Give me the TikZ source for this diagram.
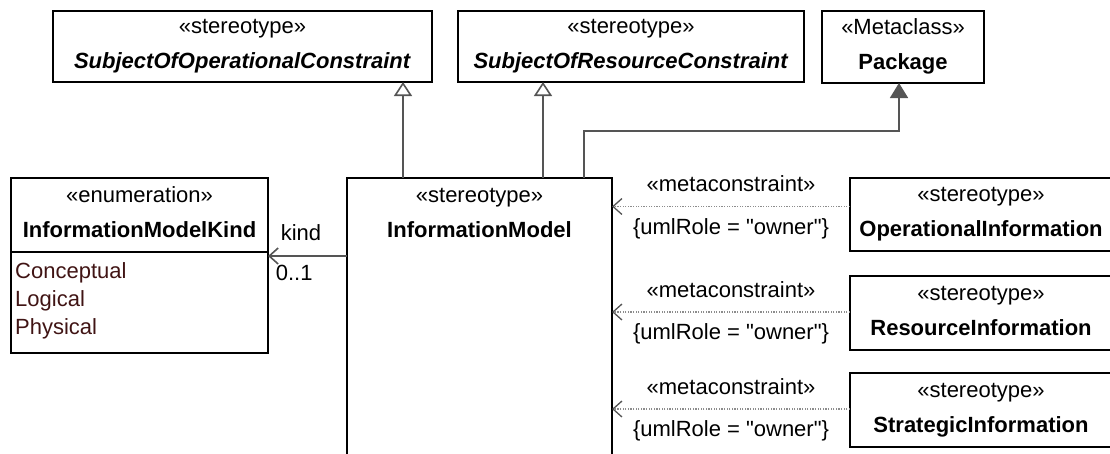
\documentclass[tikz,border=0pt]{standalone}
\usepackage{fontspec}
\setmainfont{Liberation Sans}[Ligatures=TeXOff]
\usetikzlibrary{arrows.meta,positioning}
\definecolor{linegray}{RGB}{85,85,85}
\definecolor{dotgray}{RGB}{140,140,140}
\definecolor{litbrown}{RGB}{64,20,20}
\newcommand{\umlfont}{\fontsize{22}{35}\selectfont}
\newcommand{\litfont}{\fontsize{22}{28}\selectfont}

\begin{document}
\begin{tikzpicture}[x=1pt,y=-1pt,
    cls/.style={draw,line width=1.8pt,align=center,inner sep=0pt,outer sep=0pt,
      text depth=5pt,font=\umlfont,anchor=north west},
    gen/.style={draw=linegray,line width=1.6pt,-{Triangle[open,length=14pt,width=18pt]}},
    ext/.style={draw=linegray,line width=1.6pt,-{Triangle[length=15pt,width=18pt]}},
    assoc/.style={draw=linegray,line width=1.6pt,-{Straight Barb[length=9pt,width=16pt]}},
    meta/.style={draw=dotgray,line width=1.3pt,dash pattern=on 1.3pt off 1.3pt,
      -{Straight Barb[length=9pt,width=16pt,color=linegray]}},
    lbl/.style={inner sep=0pt,font=\umlfont}]

  \useasboundingbox (0,0) rectangle (1110,453);
  \clip (0,0) rectangle (1110,453);

  % Top classes
  \node[cls,minimum width=379pt,minimum height=71pt] (sop) at (53,11)
    {«stereotype»\\\textbf{\textit{SubjectOfOperationalConstraint}}};
  \node[cls,minimum width=346pt,minimum height=71pt] (src) at (458,11)
    {«stereotype»\\\textbf{\textit{SubjectOfResourceConstraint}}};
  \node[cls,minimum width=162pt,minimum height=72pt] (pkg) at (822,11)
    {«Metaclass»\\\textbf{Package}};

  % Enumeration
  \node[cls,minimum width=257pt,minimum height=74pt] (enum) at (11,178)
    {«enumeration»\\\textbf{InformationModelKind}};
  \node[cls,minimum width=257pt,minimum height=101pt,below=0pt of enum] (lits) {};
  \node[lbl,font=\litfont,align=left,anchor=north west,text=litbrown] (litlist)
    at ([xshift=4pt,yshift=-10pt]lits.north west) {Conceptual\\Logical\\Physical};

  % Main stereotype
  \node[cls,minimum width=265pt,minimum height=300pt] (im) at (347,178) {};
  \node[lbl,align=center,text depth=5pt,minimum height=74pt,anchor=north] (imtitle)
    at (im.north) {«stereotype»\\\textbf{InformationModel}};

  % Right column
  \node[cls,minimum width=262pt,minimum height=73pt] (opinfo) at (850,178)
    {«stereotype»\\\textbf{OperationalInformation}};
  \node[cls,minimum width=262pt,minimum height=74pt] (resinfo) at (850,276)
    {«stereotype»\\\textbf{ResourceInformation}};
  \node[cls,minimum width=262pt,minimum height=74pt] (stratinfo) at (850,373)
    {«stereotype»\\\textbf{StrategicInformation}};

  % Generalizations and extension
  \draw[gen] (im.north west) ++(56,0) coordinate (g1) -- (g1 |- sop.south);
  \draw[gen] (im.north west) ++(196,0) coordinate (g2) -- (g2 |- src.south);
  \draw[ext] (im.north west) ++(237,0) -- ++(0,-47) -| ([xshift=-4pt]pkg.south);

  % Association
  \coordinate (kindend) at ([yshift=-4pt]enum.south east);
  \draw[assoc] (kindend -| im.west) -- (kindend)
    node[lbl,pos=1,anchor=south west,xshift=12pt,yshift=14pt] {kind}
    node[lbl,pos=1,anchor=north west,xshift=7pt,yshift=-8pt] {0..1};

  % Metaconstraints
  \draw[meta] ([yshift=8pt]opinfo.west) coordinate (m1) -- (m1 -| im.east)
    node[lbl,midway,above=14pt] {«metaconstraint»}
    node[lbl,midway,below=11pt] {\{umlRole = "owner"\}};
  \draw[meta] ([yshift=1pt]resinfo.west) coordinate (m2) -- (m2 -| im.east)
    node[lbl,midway,above=14pt] {«metaconstraint»}
    node[lbl,midway,below=11pt] {\{umlRole = "owner"\}};
  \draw[meta] ([yshift=1pt]stratinfo.west) coordinate (m3) -- (m3 -| im.east)
    node[lbl,midway,above=14pt] {«metaconstraint»}
    node[lbl,midway,below=11pt] {\{umlRole = "owner"\}};

\end{tikzpicture}
\end{document}
